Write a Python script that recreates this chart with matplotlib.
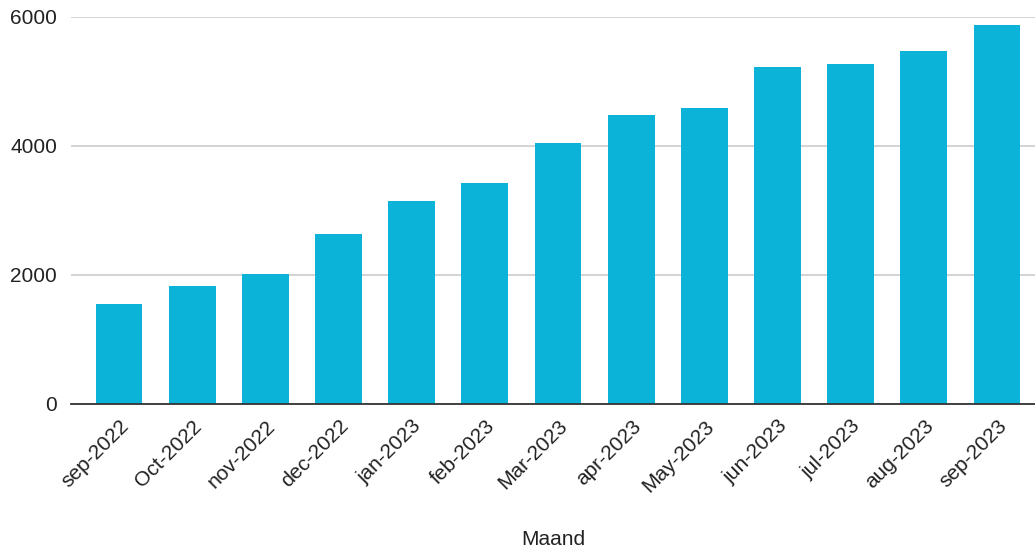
import matplotlib.pyplot as plt

months = ["sep-2022", "Oct-2022", "nov-2022", "dec-2022", "jan-2023", "feb-2023",
          "Mar-2023", "apr-2023", "May-2023", "jun-2023", "jul-2023", "aug-2023",
          "sep-2023"]
counts = [1550, 1835, 2010, 2630, 3140, 3425, 4050, 4480, 4590, 5215, 5275, 5470, 5870]
yticks = [0, 2000, 4000, 6000]

plt.rcParams['font.family'] = ['Liberation Sans', 'DejaVu Sans']

fig = plt.figure(figsize=(10.35, 5.48), dpi=100)
ax = fig.add_axes([0.0686, 0.2628, 0.9314, 0.7067])

x = list(range(len(months)))
ax.bar(x, counts, width=0.64, color='#0bb3d9', zorder=3)

ax.set_xlim(-0.655, 12.52)
ax.set_ylim(0, 6000)
ax.set_yticks(yticks)
ax.set_yticklabels([str(v) for v in yticks], fontsize=15, color='#222222')
ax.set_xticks(x)
ax.set_xticklabels(months, rotation=45, ha='right', rotation_mode='anchor',
                   fontsize=15, color='#222222')
ax.tick_params(axis='both', length=0)
ax.tick_params(axis='y', pad=10)
ax.tick_params(axis='x', pad=9)

ax.grid(axis='y', color='#cccccc', linewidth=1.2, zorder=0)
for s in ['top', 'right', 'left']:
    ax.spines[s].set_visible(False)
ax.spines['bottom'].set_color('#333333')
ax.spines['bottom'].set_linewidth(1.3)
ax.spines['bottom'].set_zorder(4)

ax.set_xlabel("Maand", fontsize=15, color='#222222', labelpad=25)

fig.savefig("out.png", dpi=100, facecolor='white')
